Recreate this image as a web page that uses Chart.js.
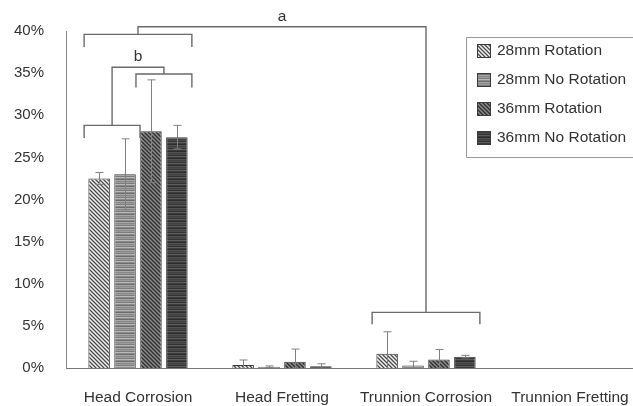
<!DOCTYPE html>
<html>
<head>
<meta charset="utf-8">
<script src="https://cdn.jsdelivr.net/npm/chart.js@4/dist/chart.umd.min.js"></script>
<style>
  html, body { margin: 0; padding: 0; background: #fff; overflow: hidden; }
  #wrap { width: 633px; height: 406px; position: relative; }
</style>
</head>
<body>
<div id="wrap"><canvas id="chart"></canvas></div>
<script>
// Data (percent)
const categories = ["Head Corrosion", "Head Fretting", "Trunnion Corrosion", "Trunnion Fretting"];
const seriesNames = ["28mm Rotation", "28mm No Rotation", "36mm Rotation", "36mm No Rotation"];
const rot28 = [22.5, 0.35, 1.7, 0];
const noRot28 = [23.0, 0.15, 0.3, 0];
const rot36 = [28.1, 0.75, 1.0, 0];
const noRot36 = [27.4, 0.2, 1.35, 0];
const rot28Err = [0.7, 0.6, 2.6, 0];
const noRot28Err = [4.2, 0.1, 0.5, 0];
const rot36Err = [6.1, 1.5, 1.2, 0];
const noRot36Err = [1.4, 0.3, 0.15, 0];
const yTicks = [0, 5, 10, 15, 20, 25, 30, 35, 40];

const FONT = '"Liberation Sans", Arial, sans-serif';
const TEXT = "#333";

// Patterns
const diagPattern = (bg, fg) => {
  const c = document.createElement("canvas");
  c.width = 4; c.height = 4;
  const g = c.getContext("2d");
  g.fillStyle = bg; g.fillRect(0, 0, 4, 4);
  g.strokeStyle = fg; g.lineWidth = 1.3;
  g.beginPath();
  g.moveTo(-1, -1); g.lineTo(5, 5);
  g.moveTo(-1, 3); g.lineTo(1, 5);
  g.moveTo(3, -1); g.lineTo(5, 1);
  g.stroke();
  return g.createPattern(c, "repeat");
};
const rowPattern = (rows) => {
  const c = document.createElement("canvas");
  c.width = 4; c.height = rows.length;
  const g = c.getContext("2d");
  rows.forEach((col, i) => { g.fillStyle = col; g.fillRect(0, i, 4, 1); });
  return g.createPattern(c, "repeat");
};

const fills = [
  diagPattern("#f2f2f2", "#4a4a4a"),
  rowPattern(["#9c9c9c", "#7c7c7c", "#b8b8b8", "#8a8a8a", "#6c6c6c", "#a8a8a8", "#888888"]),
  diagPattern("#8a8a8a", "#2e2e2e"),
  rowPattern(["#4a4a4a", "#333333", "#5e5e5e", "#3c3c3c", "#2c2c2c", "#525252", "#404040"]),
];
const values = [rot28, noRot28, rot36, noRot36];
const errors = [rot28Err, noRot28Err, rot36Err, noRot36Err];

// Significance brackets: category, first bar, last bar, level (%), drop (%)
const brackets = [
  { cat: 0, from: 0, to: 1, level: 28.8, drop: 1.5 },
  { cat: 0, from: 2, to: 3, level: 34.9, drop: 1.6 },
  { cat: 0, from: 0, to: 3, level: 39.6, drop: 1.5 },
  { cat: 2, from: 0, to: 3, level: 6.6, drop: 1.4 },
];
// links between bracket centers: [bracketA, bracketB, level, label, labelLevel]
const links = [
  [0, 1, 35.7, "b", 36.9],
  [2, 3, 40.5, "a", 41.7],
];

// the plot area runs a little past the right edge of the picture
const wideArea = {
  id: "wideArea",
  afterLayout(chart) {
    const x = chart.scales.x;
    const right = 642;
    x.right = right;
    x.width = right - x.left;
    chart.chartArea.right = right;
    chart.chartArea.width = right - chart.chartArea.left;
    x.configure();
  },
};

const errorBars = {
  id: "errorBars",
  afterDatasetsDraw(chart) {
    const ctx = chart.ctx;
    const y = chart.scales.y;
    ctx.save();
    ctx.strokeStyle = "#808080";
    ctx.lineWidth = 1;
    values.forEach((vals, i) => {
      const meta = chart.getDatasetMeta(i);
      meta.data.forEach((bar, j) => {
        const e = errors[i][j];
        if (!e) return;
        const x = Math.round(bar.x) + 0.5;
        const top = y.getPixelForValue(vals[j] + e);
        const bot = y.getPixelForValue(Math.max(vals[j] - e, 0));
        ctx.beginPath();
        ctx.moveTo(x, top); ctx.lineTo(x, bot);
        ctx.moveTo(x - 4, top); ctx.lineTo(x + 4, top);
        if (vals[j] - e > 0) { ctx.moveTo(x - 4, bot); ctx.lineTo(x + 4, bot); }
        ctx.stroke();
      });
    });
    ctx.restore();
  },
};

const sigBrackets = {
  id: "sigBrackets",
  afterDraw(chart) {
    const ctx = chart.ctx;
    const y = chart.scales.y;
    const spans = brackets.map((b) => {
      const bars = chart.getDatasetMeta(b.from).data;
      const bars2 = chart.getDatasetMeta(b.to).data;
      const x0 = bars[b.cat].x - 15;
      const x1 = bars2[b.cat].x + 15;
      return { x0, x1, mid: (x0 + x1) / 2, y: y.getPixelForValue(b.level), yd: y.getPixelForValue(b.level - b.drop) };
    });
    ctx.save();
    ctx.strokeStyle = "#6a6a6a";
    ctx.lineWidth = 1.4;
    spans.forEach((s) => {
      ctx.beginPath();
      ctx.moveTo(s.x0, s.yd); ctx.lineTo(s.x0, s.y); ctx.lineTo(s.x1, s.y); ctx.lineTo(s.x1, s.yd);
      ctx.stroke();
    });
    ctx.fillStyle = TEXT;
    ctx.font = "15.5px " + FONT;
    ctx.textAlign = "center";
    ctx.textBaseline = "middle";
    links.forEach(([a, b, level, label, labelLevel]) => {
      const A = spans[a], B = spans[b];
      const ly = y.getPixelForValue(level);
      ctx.beginPath();
      ctx.moveTo(A.mid, A.y); ctx.lineTo(A.mid, ly); ctx.lineTo(B.mid, ly); ctx.lineTo(B.mid, B.y);
      ctx.stroke();
      ctx.fillText(label, (A.mid + B.mid) / 2, y.getPixelForValue(labelLevel));
    });
    ctx.restore();
  },
};

const boxLegend = {
  id: "boxLegend",
  afterDraw(chart) {
    const ctx = chart.ctx;
    const left = 466.5, top = 37.5, bottom = 157.5, right = 700;
    ctx.save();
    ctx.fillStyle = "#fff";
    ctx.fillRect(left, top, right - left, bottom - top);
    ctx.strokeStyle = "#999";
    ctx.lineWidth = 1;
    ctx.beginPath();
    ctx.moveTo(right, top); ctx.lineTo(left, top); ctx.lineTo(left, bottom); ctx.lineTo(right, bottom);
    ctx.stroke();
    ctx.font = "15.5px " + FONT;
    ctx.textBaseline = "middle";
    const rowsY = [51, 80, 109, 138];
    seriesNames.forEach((name, i) => {
      const cy = rowsY[i];
      ctx.fillStyle = fills[i];
      ctx.fillRect(477, cy - 7, 14, 14);
      ctx.strokeStyle = "#3a3a3a";
      ctx.strokeRect(477.5, cy - 6.5, 13, 13);
      ctx.fillStyle = TEXT;
      ctx.fillText(name, 497, cy);
    });
    ctx.restore();
  },
};

new Chart(document.getElementById("chart"), {
  type: "bar",
  data: {
    labels: categories,
    datasets: seriesNames.map((name, i) => ({
      label: name,
      data: values[i],
      backgroundColor: fills[i],
      borderColor: "#3a3a3a",
      borderWidth: 1,
      categoryPercentage: 0.72,
      barPercentage: 0.83,
    })),
  },
  options: {
    responsive: true,
    maintainAspectRatio: false,
    animation: false,
    layout: { padding: { top: 31, right: 0, left: 0, bottom: 0 } },
    scales: {
      x: {
        grid: { display: false, drawTicks: false },
        border: { display: true, color: "#777", width: 1 },
        ticks: { color: TEXT, padding: 20, font: { family: FONT, size: 15.5 } },
        afterFit: (s) => { s.height = 38; },
      },
      y: {
        min: 0,
        max: 40,
        afterBuildTicks: (s) => { s.ticks = yTicks.map((v) => ({ value: v })); },
        grid: { display: false, drawTicks: false },
        border: { display: true, color: "#888", width: 1 },
        ticks: { color: TEXT, padding: 22, font: { family: FONT, size: 15 }, callback: (v) => v + "%" },
        afterFit: (s) => { s.width = 66; },
      },
    },
    plugins: {
      legend: { display: false },
      tooltip: { enabled: false },
    },
  },
  plugins: [wideArea, errorBars, sigBrackets, boxLegend],
});
</script>
</body>
</html>
